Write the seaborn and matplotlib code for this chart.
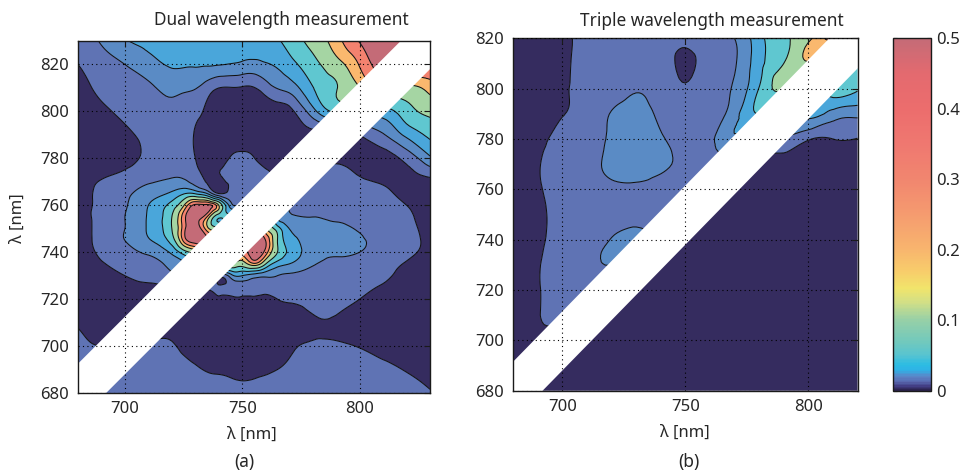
import numpy as np
import matplotlib
matplotlib.use("Agg")
import matplotlib.pyplot as plt
import matplotlib.tri as mtri
from matplotlib.colors import LinearSegmentedColormap, Normalize
from matplotlib.cm import ScalarMappable
import seaborn as sns

# ---------------------------------------------------------------- data
# wavelength nodes (nm) of the two maps
dual_lambda = [680, 690, 700, 710, 720, 725, 730, 735, 740, 745, 750,
               755, 760, 765, 770, 780, 790, 800, 810, 820, 830]
triple_lambda = [680, 690, 700, 710, 720, 730, 740, 750, 760, 770,
                 780, 790, 800, 810, 820]

# dual wavelength map, one row per second wavelength (680 -> 830 nm)
dual_z = [
    [0.0066, 0.0066, 0.00707, 0.00707, 0.00707, 0.00707, 0.00683, 0.00637, 0.00616, 0.00595, 0.00574, 0.00574, 0.00595, 0.00616, 0.0066, 0.00707, 0.00707, 0.00707, 0.00683, 0.00616, 0.00518],
    [0.00616, 0.00616, 0.00616, 0.00637, 0.00616, 0.00595, 0.00536, 0.00483, 0.00467, 0.0045, 0.00435, 0.0045, 0.00467, 0.005, 0.00555, 0.0066, 0.0066, 0.00637, 0.00574, 0.00483, 0.00406],
    [0.00536, 0.005, 0.005, 0.00536, 0.00536, 0.00435, 0.00379, 0.00342, 0.0033, 0.0033, 0.0033, 0.00342, 0.00342, 0.00354, 0.00435, 0.00536, 0.00536, 0.00483, 0.00406, 0.00354, 0.0033],
    [0.00467, 0.00379, 0.00379, 0.00379, 0.00406, 0.00379, 0.00354, 0.0033, 0.00308, 0.00308, 0.00308, 0.00308, 0.00319, 0.00342, 0.00379, 0.00467, 0.00467, 0.00379, 0.00354, 0.0033, 0.0033],
    [0.00308, 0.0033, 0.00354, 0.00379, 0.00435, 0.00467, 0.00435, 0.00406, 0.00435, 0.0045, 0.00467, 0.00435, 0.00406, 0.005, 0.00536, 0.00595, 0.00595, 0.005, 0.00406, 0.00354, 0.00308],
    [0.00308, 0.00354, 0.00406, 0.00435, 0.005, 0.00574, 0.0066, 0.00616, 0.00574, 0.00616, 0.00616, 0.00707, 0.0066, 0.0066, 0.00616, 0.00637, 0.00637, 0.00574, 0.00467, 0.00354, 0.00308],
    [0.00308, 0.00379, 0.005, 0.00616, 0.0087, 0.01, 0.02, 0.04, 0.00758, 0.0141, 0.02, 0.0141, 0.0115, 0.01, 0.0087, 0.00758, 0.00707, 0.0066, 0.00574, 0.00379, 0.00308],
    [0.00287, 0.00467, 0.00616, 0.00758, 0.0123, 0.0174, 0.04, 0.08, 0.16, 0.16, 0.113, 0.226, 0.08, 0.0283, 0.02, 0.0107, 0.00812, 0.00758, 0.0066, 0.00467, 0.0033],
    [0.00308, 0.00574, 0.00758, 0.0115, 0.023, 0.0566, 0.113, 0.16, 0.226, 0.32, 0.32, 0.557, 0.32, 0.08, 0.0348, 0.0141, 0.0115, 0.01, 0.00758, 0.00595, 0.00406],
    [0.00308, 0.0066, 0.01, 0.0187, 0.0566, 0.279, 0.557, 0.453, 0.32, 0.32, 0.453, 0.557, 0.394, 0.08, 0.0283, 0.0152, 0.0132, 0.0107, 0.00812, 0.0066, 0.00406],
    [0.00287, 0.0066, 0.01, 0.0214, 0.08, 0.32, 0.64, 0.197, 0.113, 0.16, 0.226, 0.32, 0.16, 0.0566, 0.02, 0.0141, 0.0123, 0.00933, 0.00707, 0.00616, 0.00379],
    [0.00308, 0.0066, 0.01, 0.0214, 0.08, 0.32, 0.597, 0.243, 0.046, 0.0566, 0.08, 0.08, 0.08, 0.02, 0.0115, 0.01, 0.0087, 0.00758, 0.00707, 0.00574, 0.00354],
    [0.00354, 0.00616, 0.00933, 0.02, 0.0528, 0.149, 0.453, 0.453, 0.16, 0.0141, 0.0141, 0.02, 0.04, 0.0283, 0.00933, 0.0087, 0.00812, 0.00758, 0.0066, 0.005, 0.00354],
    [0.00308, 0.00616, 0.0087, 0.0141, 0.023, 0.0373, 0.0373, 0.02, 0.005, 0.00637, 0.0066, 0.00637, 0.00574, 0.00574, 0.0066, 0.00758, 0.00758, 0.00707, 0.00574, 0.00406, 0.0033],
    [0.00308, 0.00536, 0.00707, 0.00933, 0.0115, 0.0115, 0.00758, 0.00483, 0.00354, 0.00616, 0.00707, 0.0066, 0.005, 0.00435, 0.00406, 0.0066, 0.00707, 0.00555, 0.00467, 0.00379, 0.00406],
    [0.00177, 0.0025, 0.00379, 0.00574, 0.00707, 0.00683, 0.005, 0.00379, 0.00354, 0.00536, 0.00683, 0.00518, 0.00354, 0.0033, 0.0033, 0.00354, 0.00406, 0.00379, 0.00379, 0.00629, 0.0174],
    [0.00177, 0.0025, 0.00406, 0.00616, 0.00707, 0.0066, 0.00467, 0.0033, 0.00287, 0.00268, 0.00268, 0.00287, 0.00308, 0.0033, 0.00354, 0.00379, 0.00379, 0.005, 0.00933, 0.0235, 0.046],
    [0.0025, 0.00406, 0.00616, 0.00758, 0.00812, 0.00707, 0.00616, 0.00435, 0.0033, 0.00287, 0.00287, 0.00308, 0.0033, 0.00354, 0.00406, 0.0152, 0.046, 0.0348, 0.0303, 0.0598, 0.0958],
    [0.0033, 0.00616, 0.00758, 0.0087, 0.0123, 0.0115, 0.0104, 0.00707, 0.005, 0.00483, 0.00467, 0.00483, 0.00707, 0.0104, 0.0132, 0.0386, 0.0773, 0.155, 0.184, 0.139, 0.197],
    [0.005, 0.00758, 0.01, 0.0152, 0.0214, 0.0214, 0.0214, 0.0214, 0.0207, 0.0193, 0.0174, 0.0162, 0.0187, 0.0222, 0.0303, 0.0628, 0.126, 0.26, 0.557, 0.557, 0.368],
    [0.0066, 0.0107, 0.0187, 0.0246, 0.0264, 0.0283, 0.0283, 0.0283, 0.0283, 0.0283, 0.0293, 0.0303, 0.0314, 0.0373, 0.0517, 0.103, 0.207, 0.414, 0.64, 0.905, 0.64],
]

# triple wavelength map, one row per second wavelength (680 -> 820 nm)
triple_z = [
    [0.00233, 0.00218, 0.00218, 0.00218, 0.00218, 0.00218, 0.00218, 0.00218, 0.00218, 0.00218, 0.00218, 0.00218, 0.00218, 0.00218, 0.00218],
    [0.00233, 0.00233, 0.00218, 0.00218, 0.00218, 0.00218, 0.00218, 0.00218, 0.00218, 0.00218, 0.00218, 0.00218, 0.00218, 0.00218, 0.00218],
    [0.00233, 0.00406, 0.00308, 0.00218, 0.00218, 0.00218, 0.00218, 0.00218, 0.00218, 0.00218, 0.00218, 0.00218, 0.00218, 0.00218, 0.00218],
    [0.00218, 0.00467, 0.00616, 0.00379, 0.00218, 0.00218, 0.00218, 0.00218, 0.00218, 0.00218, 0.00218, 0.00218, 0.00218, 0.00218, 0.00218],
    [0.00203, 0.00473, 0.00637, 0.00707, 0.00379, 0.00218, 0.00218, 0.00218, 0.00218, 0.00218, 0.00218, 0.00218, 0.00218, 0.00218, 0.00218],
    [0.00203, 0.00467, 0.00637, 0.00758, 0.01, 0.00435, 0.00218, 0.00218, 0.00218, 0.00218, 0.00218, 0.00218, 0.00218, 0.00218, 0.00218],
    [0.00203, 0.0042, 0.00616, 0.00683, 0.0104, 0.0115, 0.005, 0.00218, 0.00218, 0.00218, 0.00218, 0.00218, 0.00218, 0.00218, 0.00218],
    [0.00203, 0.00406, 0.00616, 0.0066, 0.00707, 0.00732, 0.00707, 0.00435, 0.0025, 0.00218, 0.00218, 0.00218, 0.00218, 0.00218, 0.00218],
    [0.00203, 0.0045, 0.00616, 0.0066, 0.00812, 0.0084, 0.00758, 0.0066, 0.005, 0.00287, 0.00233, 0.00218, 0.00218, 0.00218, 0.00218],
    [0.00203, 0.00467, 0.00616, 0.00707, 0.0123, 0.0132, 0.0115, 0.0087, 0.0087, 0.00574, 0.0033, 0.00287, 0.00268, 0.00268, 0.00287],
    [0.00203, 0.00379, 0.00595, 0.00637, 0.0115, 0.0132, 0.0107, 0.00683, 0.00812, 0.0187, 0.01, 0.00933, 0.00536, 0.005, 0.0049],
    [0.00203, 0.00287, 0.00483, 0.00637, 0.0104, 0.0123, 0.00901, 0.0066, 0.00707, 0.0152, 0.04, 0.02, 0.0246, 0.0152, 0.0123],
    [0.00218, 0.00308, 0.0045, 0.00616, 0.00683, 0.00933, 0.00707, 0.00537, 0.00683, 0.0111, 0.0414, 0.0857, 0.04, 0.0566, 0.0429],
    [0.0025, 0.00308, 0.00435, 0.00616, 0.0066, 0.00683, 0.0066, 0.0045, 0.0064, 0.00933, 0.0314, 0.08, 0.149, 0.08, 0.0606],
    [0.0025, 0.00308, 0.0042, 0.00616, 0.0066, 0.0066, 0.00637, 0.00574, 0.00707, 0.01, 0.0314, 0.0696, 0.139, 0.309, 0.32],
]

contour_levels = [0.005, 0.01, 0.02, 0.04, 0.08, 0.16, 0.25, 0.4]
band_colors = ["#352c5f", "#5f73b4", "#5a8bc5", "#4aa6da", "#5fc7d0",
               "#a5d5a3", "#fab86e", "#f3826f", "#c46b77"]
colorbar_ticks = [0, 0.1, 0.2, 0.3, 0.4, 0.5]
colorbar_labels = ["0", "0.1", "0.2", "0.3", "0.4", "0.5"]
tick_values = [680, 700, 720, 740, 760, 780, 800, 820]
x_tick_values = [700, 750, 800]

# ---------------------------------------------------------------- style
sns.set_theme(style="white")
plt.rcParams["font.family"] = ["Noto Sans", "DejaVu Sans"]
plt.rcParams["axes.edgecolor"] = "#1a1a1a"
plt.rcParams["axes.linewidth"] = 1.0

cmap = LinearSegmentedColormap.from_list("lab", [
    (0.000, "#2c2350"), (0.012, "#433f86"), (0.024, "#5a6bb2"),
    (0.040, "#5a87c8"), (0.056, "#2fb2e6"), (0.072, "#2cbce3"),
    (0.100, "#58c4d0"), (0.140, "#73c9bc"), (0.200, "#97d0a7"),
    (0.250, "#d2df86"), (0.290, "#f1e46b"), (0.340, "#f8cc6b"),
    (0.400, "#f8b56e"), (0.500, "#f59b6f"), (0.600, "#f1866f"),
    (0.700, "#ef7870"), (0.800, "#ec6d6d"), (0.900, "#e46a6f"),
    (1.000, "#c46b77")])
band_palette = sns.color_palette(band_colors)

fill_levels = np.log2([1e-4] + contour_levels + [10.0])
line_levels = np.log2(contour_levels)


def draw_map(ax, lam, z, lim, gap_above, gap_below):
    gx, gy = np.meshgrid(lam, lam)
    tri = mtri.Triangulation(gx.ravel(), gy.ravel())
    refiner = mtri.UniformTriRefiner(tri)
    tri_f, lz = refiner.refine_field(np.log2(np.asarray(z, float)).ravel(), subdiv=3)
    lz = np.clip(lz, fill_levels[0] + 1e-6, fill_levels[-1] - 1e-6)
    ax.tricontourf(tri_f, lz, levels=fill_levels, colors=band_palette,
                   antialiased=True, zorder=1)
    ax.tricontour(tri_f, lz, levels=line_levels, colors="#111111",
                  linewidths=0.75, linestyles="solid",
                  negative_linestyles="solid", zorder=2)
    # diagonal strip where both wavelengths coincide is left blank
    xs = np.array([lim[0] - 50.0, lim[1] + 50.0])
    ax.fill_between(xs, xs - gap_below, xs + gap_above, color="white",
                    lw=0, zorder=2.2)
    ax.set_xlim(*lim)
    ax.set_ylim(*lim)
    ax.set_xticks(x_tick_values)
    ax.set_yticks([t for t in tick_values if t <= lim[1]])
    ax.set_axisbelow(False)
    ax.grid(True, color="black", linestyle=(0, (1, 3)), linewidth=0.8)
    ax.tick_params(direction="in", top=True, right=True, length=4,
                   width=0.8, labelsize=12, color="#1a1a1a")
    ax.tick_params(axis="x", pad=6)
    ax.tick_params(axis="y", pad=6.5)
    for s in ax.spines.values():
        s.set_visible(True)
        s.set_color("#1a1a1a")


fig = plt.figure(figsize=(9.7, 4.74), dpi=100)
ax1 = fig.add_axes([0.0804, 0.1709, 0.3629, 0.7426])
ax2 = fig.add_axes([0.5289, 0.1757, 0.3552, 0.7435])
cax = fig.add_axes([0.9203, 0.1757, 0.0395, 0.7435])

draw_map(ax1, dual_lambda, dual_z, (680, 830), 12.5, 12.0)
draw_map(ax2, triple_lambda, triple_z, (680, 820), 11.5, 12.0)

ax1.set_xlabel("λ [nm]", fontsize=12, va="center")
ax1.xaxis.set_label_coords(0.494, -0.119)
ax1.set_ylabel("λ [nm]", fontsize=12, va="center")
ax1.yaxis.set_label_coords(-0.170, 0.497)
ax2.set_xlabel("λ [nm]", fontsize=12, va="center")
ax2.xaxis.set_label_coords(0.499, -0.120)

fig.text(0.2897, 0.958, "Dual wavelength measurement", ha="center",
         va="center", fontsize=12.4)
fig.text(0.7337, 0.956, "Triple wavelength measurement", ha="center",
         va="center", fontsize=12.4)
fig.text(0.2515, 0.0253, "(a)", ha="center", va="center", fontsize=12.5)
fig.text(0.7103, 0.0253, "(b)", ha="center", va="center", fontsize=12.5)

cb = fig.colorbar(ScalarMappable(norm=Normalize(0, 0.5), cmap=cmap), cax=cax)
cb.set_ticks(colorbar_ticks)
cb.set_ticklabels(colorbar_labels)
cb.outline.set_edgecolor("#1a1a1a")
cb.outline.set_linewidth(1.0)
cax.tick_params(direction="in", left=True, right=True, length=3,
                width=0.8, labelsize=12, pad=4, color="#1a1a1a")

fig.savefig("out.png", dpi=100)
